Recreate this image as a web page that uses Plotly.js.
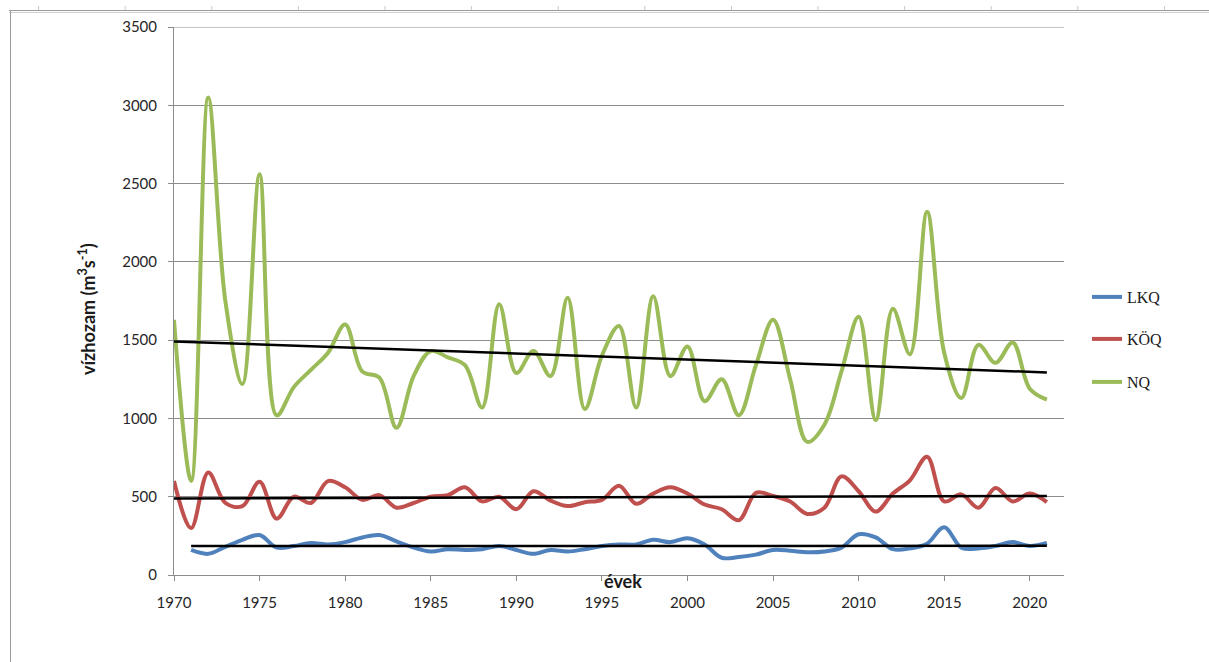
<!DOCTYPE html>
<html>
<head>
<meta charset="utf-8">
<script src="https://cdn.plot.ly/plotly-3.0.1.min.js"></script>
<style>
  html, body { margin: 0; padding: 0; background: #ffffff; }
  #chart { width: 1209px; height: 662px; }
</style>
</head>
<body>
<div id="chart"></div>
<script>
// Years of observation
const years = [
  1970, 1971, 1972, 1973, 1974, 1975, 1976, 1977, 1978, 1979,
  1980, 1981, 1982, 1983, 1984, 1985, 1986, 1987, 1988, 1989,
  1990, 1991, 1992, 1993, 1994, 1995, 1996, 1997, 1998, 1999,
  2000, 2001, 2002, 2003, 2004, 2005, 2006, 2007, 2008, 2009,
  2010, 2011, 2012, 2013, 2014, 2015, 2016, 2017, 2018, 2019,
  2020, 2021
];

// LKQ – lowest low-water discharge (m3/s), no record for 1970
const lkq = [
  null, 160, 135, 180, 225, 255, 175, 185, 205, 195,
  210, 240, 255, 215, 175, 150, 165, 160, 165, 185,
  160, 135, 160, 150, 165, 185, 195, 195, 225, 210,
  235, 195, 110, 115, 130, 160, 155, 145, 150, 175,
  260, 240, 165, 170, 200, 305, 175, 170, 185, 210,
  185, 205
];

// KÖQ – mean low-water discharge (m3/s)
const koq = [
  600, 300, 655, 460, 440, 595, 360, 500, 460, 600,
  560, 480, 510, 430, 460, 500, 510, 560, 470, 500,
  420, 535, 475, 440, 465, 480, 570, 455, 520, 560,
  520, 450, 420, 350, 525, 505, 470, 390, 430, 630,
  535, 405, 520, 605, 755, 470, 515, 430, 555, 470,
  520, 465
];

// NQ – highest low-water discharge (m3/s)
const nq = [
  1630, 600, 3050, 1750, 1220, 2560, 1020, 1200, 1310, 1420,
  1600, 1300, 1260, 940, 1270, 1430, 1390, 1340, 1070, 1730,
  1290, 1430, 1270, 1770, 1060, 1400, 1590, 1070, 1780, 1270,
  1460, 1110, 1250, 1020, 1340, 1630, 1250, 850, 960, 1300,
  1650, 990, 1700, 1410, 2320, 1420, 1130, 1470, 1355, 1485,
  1190, 1120
];

const seriesNames = ['LKQ', 'KÖQ', 'NQ'];
const seriesColors = ['#4F81BD', '#C0504D', '#9BBB59'];
const yTicks = [0, 500, 1000, 1500, 2000, 2500, 3000, 3500];
const xTicks = [1970, 1975, 1980, 1985, 1990, 1995, 2000, 2005, 2010, 2015, 2020];

// Least-squares linear trend over the years that have a value
function linearTrend(xs, ys) {
  const pts = [];
  xs.forEach((x, i) => { if (ys[i] !== null && ys[i] !== undefined) pts.push([x, ys[i]]); });
  const n = pts.length;
  let sx = 0, sy = 0, sxx = 0, sxy = 0;
  pts.forEach(([x, y]) => { sx += x; sy += y; sxx += x * x; sxy += x * y; });
  const b = (n * sxy - sx * sy) / (n * sxx - sx * sx);
  const a = (sy - b * sx) / n;
  const x0 = pts[0][0], x1 = pts[n - 1][0];
  return { x: [x0, x1], y: [a + b * x0, a + b * x1] };
}

const W = 1209, H = 662;
const M = { l: 174, r: 145, t: 27, b: 87 };
const plotW = W - M.l - M.r, plotH = H - M.t - M.b;
const px = v => (v - M.l) / plotW;           // page x pixel -> paper x
const py = v => (H - M.b - v) / plotH;       // page y pixel -> paper y

const data = [];
const values = [lkq, koq, nq];
const legendIds = ['legend', 'legend2', 'legend3'];

values.forEach((vals, i) => {
  data.push({
    x: years, y: vals, name: seriesNames[i], type: 'scatter', mode: 'lines',
    line: { color: seriesColors[i], width: 4, shape: 'spline', smoothing: 1 },
    legend: legendIds[i], connectgaps: false, hoverinfo: 'skip'
  });
});

// Black linear trend lines, one for each series
values.forEach((vals) => {
  const t = linearTrend(years, vals);
  data.push({
    x: t.x, y: t.y, type: 'scatter', mode: 'lines', showlegend: false,
    line: { color: '#000000', width: 2.5 }, hoverinfo: 'skip'
  });
});

const gridColor = '#8c8c8c';
const tickFont = { family: 'Lato, "Open Sans", sans-serif', size: 15, color: '#262626' };
const legendFont = { family: '"Liberation Serif", "DejaVu Serif", serif', size: 16, color: '#1a1a1a' };

function legendAt(yPix) {
  return {
    x: px(1087), xanchor: 'left', y: py(yPix), yanchor: 'middle',
    bgcolor: 'rgba(0,0,0,0)', borderwidth: 0, font: legendFont,
    itemwidth: 30, tracegroupgap: 0
  };
}

// Outer frame of the chart object: top rule with small marks, left edge
const shapes = [
  { type: 'line', xref: 'paper', yref: 'paper', x0: px(9), x1: px(W), y0: py(10.5), y1: py(10.5),
    line: { color: '#9a9a9a', width: 1 } },
  { type: 'line', xref: 'paper', yref: 'paper', x0: px(9), x1: px(W), y0: py(12.5), y1: py(12.5),
    line: { color: '#cfcfcf', width: 1 } },
  { type: 'line', xref: 'paper', yref: 'paper', x0: px(10.5), x1: px(10.5), y0: py(10), y1: py(H),
    line: { color: '#9a9a9a', width: 1 } },
  // top gridline of the plot area
  { type: 'line', xref: 'paper', yref: 'y', x0: 0, x1: 1, y0: 3500, y1: 3500,
    line: { color: gridColor, width: 1 } }
];
for (let xm = 38.6; xm < W; xm += 86.6) {
  shapes.push({ type: 'line', xref: 'paper', yref: 'paper', x0: px(xm), x1: px(xm), y0: py(6), y1: py(10),
    line: { color: '#c8c8c8', width: 1 } });
}

const layout = {
  width: W, height: H,
  margin: M,
  paper_bgcolor: '#ffffff', plot_bgcolor: '#ffffff',
  showlegend: true,
  legend: legendAt(297),
  legend2: legendAt(339),
  legend3: legendAt(382),
  xaxis: {
    range: [1970, 2022], tickvals: xTicks, ticktext: xTicks.map(String),
    showgrid: false, zeroline: false,
    showline: true, linecolor: gridColor, linewidth: 1,
    ticks: 'outside', ticklen: 5, tickcolor: gridColor, tickwidth: 1,
    tickfont: tickFont, ticklabelstandoff: 9
  },
  yaxis: {
    range: [0, 3500], tickvals: yTicks, ticktext: yTicks.map(String),
    showgrid: true, gridcolor: gridColor, gridwidth: 1, zeroline: false,
    showline: true, linecolor: gridColor, linewidth: 1,
    ticks: 'outside', ticklen: 5, tickcolor: gridColor, tickwidth: 1,
    tickfont: tickFont, ticklabelstandoff: 8
  },
  shapes: shapes,
  annotations: [
    {
      text: '<b>vízhozam (m<sup>3</sup>s<sup>-1</sup>)</b>', textangle: -90,
      xref: 'paper', yref: 'paper', x: px(87), y: py(309), xanchor: 'center', yanchor: 'middle',
      showarrow: false, font: { family: 'Lato, "Open Sans", sans-serif', size: 18, color: '#1a1a1a' }
    },
    {
      text: '<b>évek</b>',
      xref: 'paper', yref: 'paper', x: px(623), y: py(581), xanchor: 'center', yanchor: 'middle',
      showarrow: false, font: { family: 'Lato, "Open Sans", sans-serif', size: 18, color: '#1a1a1a' }
    }
  ]
};

Plotly.newPlot('chart', data, layout, { displayModeBar: false, staticPlot: true });
</script>
</body>
</html>
